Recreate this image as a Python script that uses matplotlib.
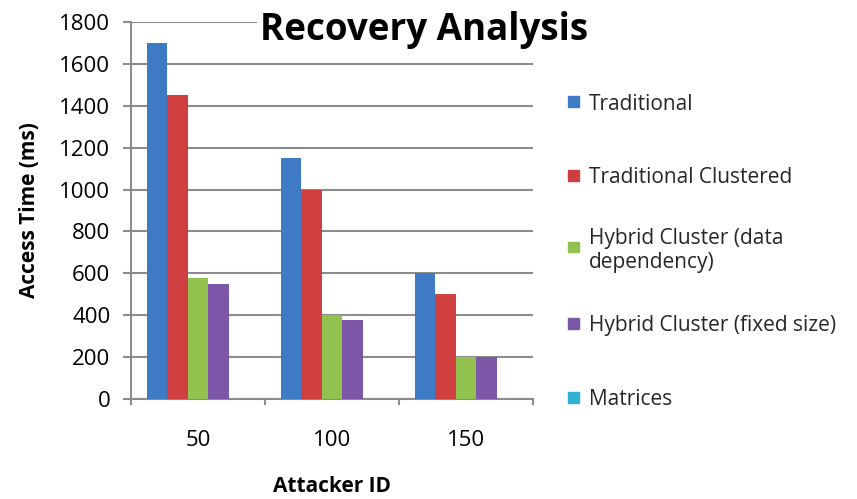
import numpy as np
import matplotlib.pyplot as plt
from matplotlib.patches import Rectangle

# Data
attacker_ids = ["50", "100", "150"]
series_names = [
    "Traditional",
    "Traditional Clustered",
    "Hybrid Cluster (data\ndependency)",
    "Hybrid Cluster (fixed size)",
    "Matrices",
]
traditional = [1700, 1150, 600]
traditional_clustered = [1450, 1000, 500]
hybrid_data_dep = [580, 400, 200]
hybrid_fixed = [550, 375, 200]
matrices = [0, 0, 0]
colors = ["#3F7BC4", "#CF3F3F", "#92C150", "#7D57A7", "#2EB2CF"]

plt.rcParams['font.family'] = ['Open Sans', 'DejaVu Sans']

W, H = 857, 499
fig = plt.figure(figsize=(W / 100, H / 100), dpi=100)
ax = fig.add_axes([0.153, 0.2004, 0.469, 0.7556])

all_series = [traditional, traditional_clustered, hybrid_data_dep, hybrid_fixed, matrices]
n = len(all_series)
width = 1 / 6.5
x = np.arange(len(attacker_ids))
for i, (vals, name, c) in enumerate(zip(all_series, series_names, colors)):
    offs = (i - (n - 1) / 2) * width
    ax.bar(x + offs, vals, width, color=c, label=name, zorder=3)

ax.set_xlim(-0.5, 2.5)
ax.set_ylim(0, 1800)
ax.set_yticks(range(0, 1801, 200))
ax.yaxis.grid(True, color="#8c8c8c", linewidth=1.5, zorder=0)

# category ticks at group boundaries, labels centered
ax.set_xticks([-0.5, 0.5, 1.5, 2.5])
ax.set_xticklabels([])
ax.set_xticks(x, minor=True)
ax.set_xticklabels(attacker_ids, minor=True, fontsize=16)
ax.tick_params(axis="x", which="major", length=4.5, width=1.5, color="#8c8c8c", direction="out")
ax.tick_params(axis="x", which="minor", length=0, pad=22)
ax.tick_params(axis="y", length=5.5, width=1.5, color="#8c8c8c", labelsize=16, pad=9.5)

for side in ["top", "right"]:
    ax.spines[side].set_visible(False)
for side in ["left", "bottom"]:
    ax.spines[side].set_color("#8c8c8c")
    ax.spines[side].set_linewidth(1.5)

ax.set_ylabel("Access Time (ms)", fontsize=15, fontweight="bold", labelpad=14)
ax.set_xlabel("Attacker ID", fontsize=15, fontweight="bold", labelpad=18)

fig.text(0.495, 0.94, "Recovery Analysis", fontsize=26.5, fontweight="bold",
         ha="center", va="center",
         bbox=dict(facecolor="white", edgecolor="none", pad=2), zorder=10)

# legend drawn by hand so the two-line entry sits like the rest
legend_y = [102, 175, 247, 323, 397]
for name, c, yp in zip(series_names, colors, legend_y):
    fy = 1 - yp / H
    fig.patches.append(Rectangle((568 / W, fy - 5.5 / H), 11 / W, 11 / H,
                                 transform=fig.transFigure, color=c))
    fig.text(589 / W, fy, name, fontsize=15, ha="left", va="center_baseline",
             linespacing=1.15, color="#262626")

fig.savefig("out.png", dpi=100)
